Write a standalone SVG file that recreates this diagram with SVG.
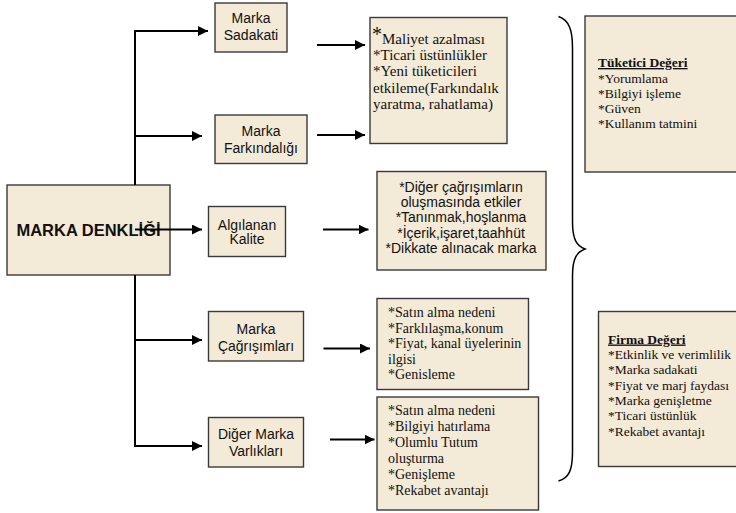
<svg xmlns="http://www.w3.org/2000/svg" width="736" height="513" viewBox="0 0 736 513">
  <style>
    .box { fill: #f3ead7; stroke: #3a3a3a; stroke-width: 1.4; }
    .lbl { font-family: "Liberation Sans", Arial, sans-serif; font-size: 14px; fill: #111; text-anchor: middle; }
    .main { font-family: "Liberation Sans", Arial, sans-serif; font-size: 16.5px; font-weight: bold; fill: #111; text-anchor: middle; }
    .ser, .ser2, .ser3 { font-family: "Liberation Serif", "Times New Roman", Times, serif; fill: #111; }
    .ser { font-size: 15px; }
    .ser2 { font-size: 14px; }
    .ser3 { font-size: 13.5px; }
    .hd { font-weight: bold; text-decoration: underline; }
    .ln { fill: none; stroke: #000; stroke-width: 2; }
    .arr { fill: none; stroke: #000; stroke-width: 2; marker-end: url(#ah); }
    .brace { fill: none; stroke: #000; stroke-width: 1.5; }
  </style>
  <defs>
    <marker id="ah" markerUnits="userSpaceOnUse" markerWidth="10" markerHeight="10" refX="10" refY="5" orient="auto">
      <path d="M0,0 L10,5 L0,10 Z" fill="#000"/>
    </marker>
  </defs>

  <rect width="736" height="513" fill="#fff"/>

  <!-- root node -->
  <g id="marka-denkligi">
    <rect class="box" x="7" y="185" width="163" height="90"/>
    <text class="main" x="88.5" y="236">MARKA DENKLİĞİ</text>
  </g>

  <!-- dimension nodes -->
  <g id="marka-sadakati">
    <rect class="box" x="215" y="3" width="72" height="49"/>
    <text class="lbl" x="251" y="23">Marka</text>
    <text class="lbl" x="251" y="40">Sadakati</text>
  </g>
  <g id="marka-farkindaligi">
    <rect class="box" x="215" y="115" width="92" height="48.5"/>
    <text class="lbl" x="261" y="136">Marka</text>
    <text class="lbl" x="261" y="153">Farkındalığı</text>
  </g>
  <g id="algilanan-kalite">
    <rect class="box" x="208.5" y="206.5" width="77" height="50"/>
    <text class="lbl" x="247" y="229.5">Algılanan</text>
    <text class="lbl" x="247" y="244">Kalite</text>
  </g>
  <g id="marka-cagrisimlari">
    <rect class="box" x="208.5" y="311.5" width="95" height="49.5"/>
    <text class="lbl" x="256" y="334">Marka</text>
    <text class="lbl" x="256" y="351">Çağrışımları</text>
  </g>
  <g id="diger-marka-varliklari">
    <rect class="box" x="208.5" y="417.5" width="95" height="49.5"/>
    <text class="lbl" x="256" y="439">Diğer Marka</text>
    <text class="lbl" x="256" y="456">Varlıkları</text>
  </g>

  <!-- benefit lists -->
  <g id="sadakat-farkindalik-faydalari">
    <rect class="box" x="370" y="17.5" width="137" height="126"/>
    <text class="ser" x="372" y="44"><tspan font-size="20" dy="-3">*</tspan><tspan dy="3">Maliyet azalması</tspan></text>
    <text class="ser" x="373" y="60">*Ticari üstünlükler</text>
    <text class="ser" x="373" y="76">*Yeni tüketicileri</text>
    <text class="ser" x="373" y="93">etkileme(Farkındalık</text>
    <text class="ser" x="373" y="109">yaratma, rahatlama)</text>
  </g>
  <g id="kalite-faydalari">
    <rect class="box" x="377" y="171.5" width="169" height="98.5"/>
    <text class="lbl" x="461" y="192">*Diğer çağrışımların</text>
    <text class="lbl" x="461" y="207">oluşmasında etkiler</text>
    <text class="lbl" x="461" y="222">*Tanınmak,hoşlanma</text>
    <text class="lbl" x="461" y="237.5">*İçerik,işaret,taahhüt</text>
    <text class="lbl" x="461" y="253">*Dikkate alınacak marka</text>
  </g>
  <g id="cagrisim-faydalari">
    <rect class="box" x="377" y="298.5" width="151.5" height="91"/>
    <text class="ser2" x="388" y="317">*Satın alma nedeni</text>
    <text class="ser2" x="388" y="332.5">*Farklılaşma,konum</text>
    <text class="ser2" x="388" y="348">*Fiyat, kanal üyelerinin</text>
    <text class="ser2" x="388" y="363.5">ilgisi</text>
    <text class="ser2" x="388" y="379">*Genisleme</text>
  </g>
  <g id="varlik-faydalari">
    <rect class="box" x="377" y="397" width="161.5" height="113"/>
    <text class="ser2" x="388" y="415">*Satın alma nedeni</text>
    <text class="ser2" x="388" y="431">*Bilgiyi hatırlama</text>
    <text class="ser2" x="388" y="447">*Olumlu Tutum</text>
    <text class="ser2" x="388" y="463">oluşturma</text>
    <text class="ser2" x="388" y="479">*Genişleme</text>
    <text class="ser2" x="388" y="494.5">*Rekabet avantajı</text>
  </g>

  <!-- value summaries -->
  <g id="tuketici-degeri">
    <rect class="box" x="585" y="16" width="160" height="156"/>
    <text class="ser3" x="598" y="67"><tspan class="hd">Tüketici Değeri</tspan></text>
    <text class="ser3" x="598" y="82.5">*Yorumlama</text>
    <text class="ser3" x="598" y="97.5">*Bilgiyi işleme</text>
    <text class="ser3" x="598" y="113">*Güven</text>
    <text class="ser3" x="598" y="128">*Kullanım tatmini</text>
  </g>
  <g id="firma-degeri">
    <rect class="box" x="598.5" y="311.5" width="150" height="155"/>
    <text class="ser3" x="608" y="343.5"><tspan class="hd">Firma Değeri</tspan></text>
    <text class="ser3" x="608" y="358.5">*Etkinlik ve verimlilik</text>
    <text class="ser3" x="608" y="374">*Marka sadakati</text>
    <text class="ser3" x="608" y="389.5">*Fiyat ve marj faydası</text>
    <text class="ser3" x="608" y="405">*Marka genişletme</text>
    <text class="ser3" x="608" y="420">*Ticari üstünlük</text>
    <text class="ser3" x="608" y="435.5">*Rekabet avantajı</text>
  </g>

  <!-- connectors -->
  <g id="connectors">
    <path class="ln" d="M135,31 V185 M135,275 V446"/>
    <path class="arr" d="M134,31 H208"/>
    <path class="arr" d="M135,136 H202"/>
    <path class="arr" d="M135,229.5 H202"/>
    <path class="arr" d="M135,340 H202"/>
    <path class="arr" d="M134,446 H202"/>
    <path class="arr" d="M317,45 H365"/>
    <path class="arr" d="M317,135 H365"/>
    <path class="arr" d="M323,229.5 H368.5"/>
    <path class="arr" d="M323.5,348.5 H370"/>
    <path class="arr" d="M330,439.5 H374.5"/>
    <path class="brace" d="M558.5,16.5 C569,20 572.5,30 572.5,48 V222 C572.5,240 577,246 585,249 C577,252 572.5,258 572.5,276 V452 C572.5,470 569,478 558.5,481"/>
  </g>
</svg>
